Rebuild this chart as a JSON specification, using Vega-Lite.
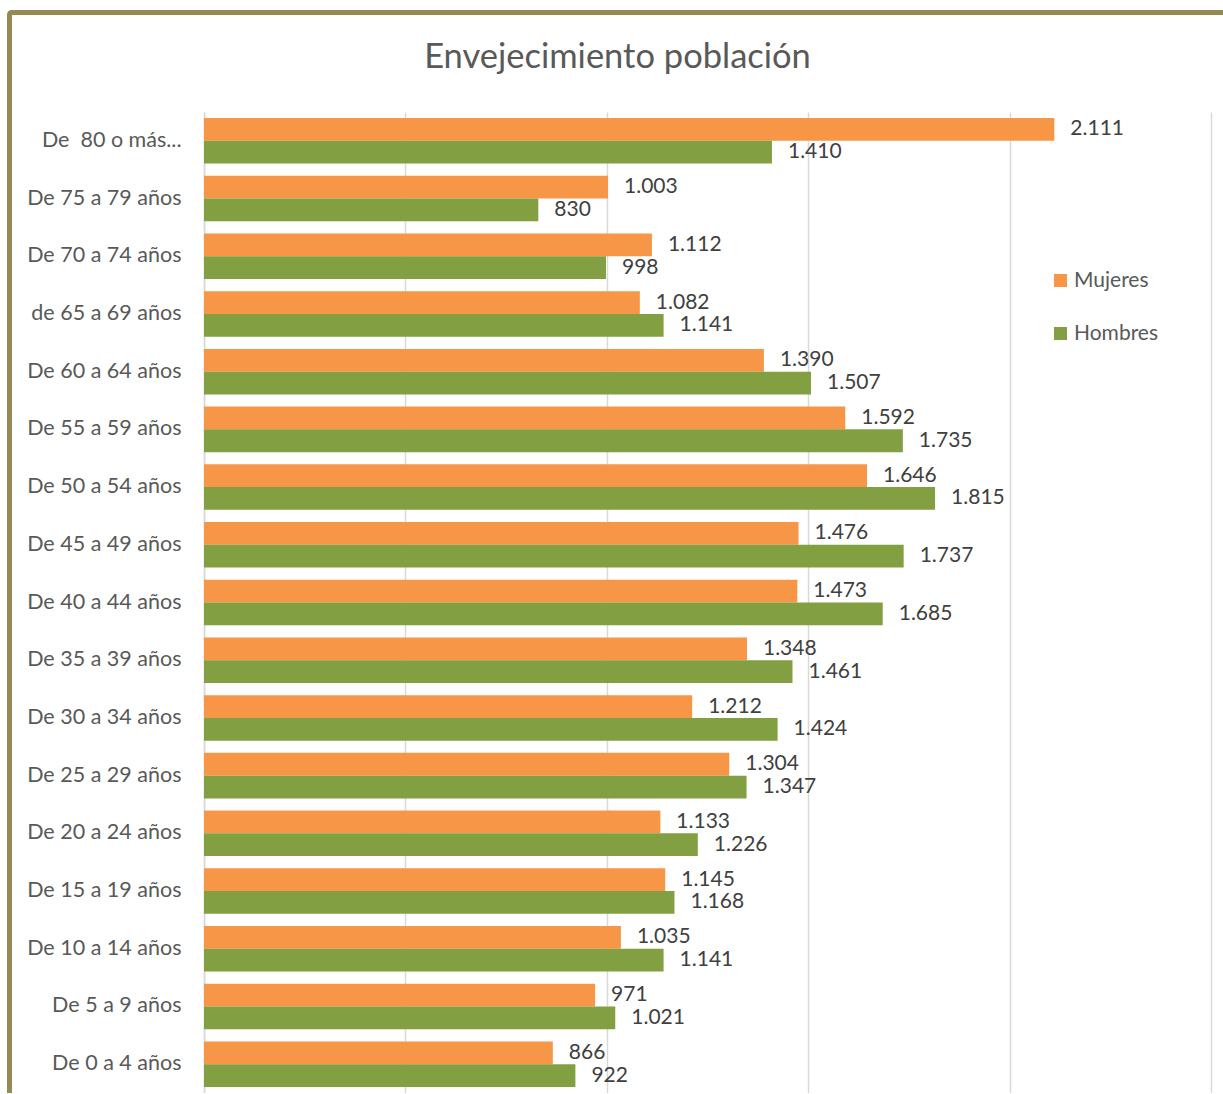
{
  "$schema": "https://vega.github.io/schema/vega-lite/v6.json",
  "width": 1007,
  "height": 981,
  "autosize": "none",
  "padding": {"left": 204, "top": 112, "right": 12, "bottom": 0},
  "background": "white",
  "config": {
    "locale": {"number": {"decimal": ",", "thousands": ".", "grouping": [3], "currency": ["", " €"]}},
    "view": {"stroke": null},
    "font": "Lato",
    "legend": {"strokeWidth": 5}
  },
  "title": {
    "text": "Envejecimiento población",
    "fontSize": 34.5,
    "font": "Lato",
    "fontWeight": "normal",
    "color": "#595959",
    "anchor": "middle",
    "frame": "group",
    "dx": -90,
    "baseline": "alphabetic",
    "offset": -92
  },
  "data": {
    "values": [
      {"grupo": "De\u00a0 80 o más...", "sexo": "Mujeres", "valor": 2111},
      {"grupo": "De\u00a0 80 o más...", "sexo": "Hombres", "valor": 1410},
      {"grupo": "De 75 a 79 años", "sexo": "Mujeres", "valor": 1003},
      {"grupo": "De 75 a 79 años", "sexo": "Hombres", "valor": 830},
      {"grupo": "De 70 a 74 años", "sexo": "Mujeres", "valor": 1112},
      {"grupo": "De 70 a 74 años", "sexo": "Hombres", "valor": 998},
      {"grupo": "de 65 a 69 años", "sexo": "Mujeres", "valor": 1082},
      {"grupo": "de 65 a 69 años", "sexo": "Hombres", "valor": 1141},
      {"grupo": "De 60 a 64 años", "sexo": "Mujeres", "valor": 1390},
      {"grupo": "De 60 a 64 años", "sexo": "Hombres", "valor": 1507},
      {"grupo": "De 55 a 59 años\u00a0", "sexo": "Mujeres", "valor": 1592},
      {"grupo": "De 55 a 59 años\u00a0", "sexo": "Hombres", "valor": 1735},
      {"grupo": "De 50 a 54 años", "sexo": "Mujeres", "valor": 1646},
      {"grupo": "De 50 a 54 años", "sexo": "Hombres", "valor": 1815},
      {"grupo": "De 45 a 49 años", "sexo": "Mujeres", "valor": 1476},
      {"grupo": "De 45 a 49 años", "sexo": "Hombres", "valor": 1737},
      {"grupo": "De 40 a 44 años", "sexo": "Mujeres", "valor": 1473},
      {"grupo": "De 40 a 44 años", "sexo": "Hombres", "valor": 1685},
      {"grupo": "De 35 a 39 años", "sexo": "Mujeres", "valor": 1348},
      {"grupo": "De 35 a 39 años", "sexo": "Hombres", "valor": 1461},
      {"grupo": "De 30 a 34 años", "sexo": "Mujeres", "valor": 1212},
      {"grupo": "De 30 a 34 años", "sexo": "Hombres", "valor": 1424},
      {"grupo": "De 25 a 29 años", "sexo": "Mujeres", "valor": 1304},
      {"grupo": "De 25 a 29 años", "sexo": "Hombres", "valor": 1347},
      {"grupo": "De 20 a 24 años", "sexo": "Mujeres", "valor": 1133},
      {"grupo": "De 20 a 24 años", "sexo": "Hombres", "valor": 1226},
      {"grupo": "De 15 a 19 años", "sexo": "Mujeres", "valor": 1145},
      {"grupo": "De 15 a 19 años", "sexo": "Hombres", "valor": 1168},
      {"grupo": "De 10 a 14 años", "sexo": "Mujeres", "valor": 1035},
      {"grupo": "De 10 a 14 años", "sexo": "Hombres", "valor": 1141},
      {"grupo": "De 5 a 9 años", "sexo": "Mujeres", "valor": 971},
      {"grupo": "De 5 a 9 años", "sexo": "Hombres", "valor": 1021},
      {"grupo": "De 0 a 4 años", "sexo": "Mujeres", "valor": 866},
      {"grupo": "De 0 a 4 años", "sexo": "Hombres", "valor": 922}
    ]
  },
  "encoding": {
    "y": {
      "field": "grupo",
      "type": "nominal",
      "sort": null,
      "scale": {"paddingInner": 0.211, "paddingOuter": 0.105},
      "axis": {
        "title": null,
        "ticks": false,
        "domain": true,
        "domainColor": "#d9d9d9",
        "domainWidth": 1.5,
        "labelFontSize": 21.5,
        "labelFont": "Lato",
        "labelColor": "#595959",
        "labelPadding": 23,
        "labelLimit": 300
      }
    },
    "yOffset": {"field": "sexo", "type": "nominal", "sort": ["Mujeres", "Hombres"]},
    "x": {
      "field": "valor",
      "type": "quantitative",
      "scale": {"domain": [0, 2500], "nice": false},
      "axis": {
        "title": null,
        "values": [0, 500, 1000, 1500, 2000, 2500],
        "labels": false,
        "ticks": false,
        "domain": false,
        "grid": true,
        "gridColor": "#d9d9d9",
        "gridWidth": 1.5
      }
    }
  },
  "layer": [
    {
      "mark": {"type": "bar", "strokeWidth": 0},
      "encoding": {
        "color": {
          "field": "sexo",
          "type": "nominal",
          "sort": ["Mujeres", "Hombres"],
          "scale": {"domain": ["Mujeres", "Hombres"], "range": ["#F79646", "#82A041"]},
          "legend": {
            "title": null,
            "orient": "none",
            "legendX": 846,
            "legendY": 158,
            "symbolType": "square",
            "symbolSize": 169,
            "symbolStrokeWidth": 0,
            "labelFontSize": 21,
            "labelFont": "Lato",
            "labelColor": "#595959",
            "labelOffset": 3,
            "rowPadding": 31
          }
        },
        "strokeDash": {
          "datum": "marco",
          "legend": {
            "title": null,
            "orient": "none",
            "legendX": -194.5,
            "legendY": -99.5,
            "padding": 620,
            "strokeColor": "#948A54",
            "cornerRadius": 2,
            "labelExpr": "''",
            "symbolOpacity": 0,
            "symbolStrokeWidth": 0
          }
        }
      }
    },
    {
      "mark": {"type": "text", "align": "left", "baseline": "middle", "dx": 16, "fontSize": 21, "font": "Lato", "color": "#404040"},
      "encoding": {
        "text": {"field": "valor", "type": "quantitative", "format": ","}
      }
    }
  ]
}
